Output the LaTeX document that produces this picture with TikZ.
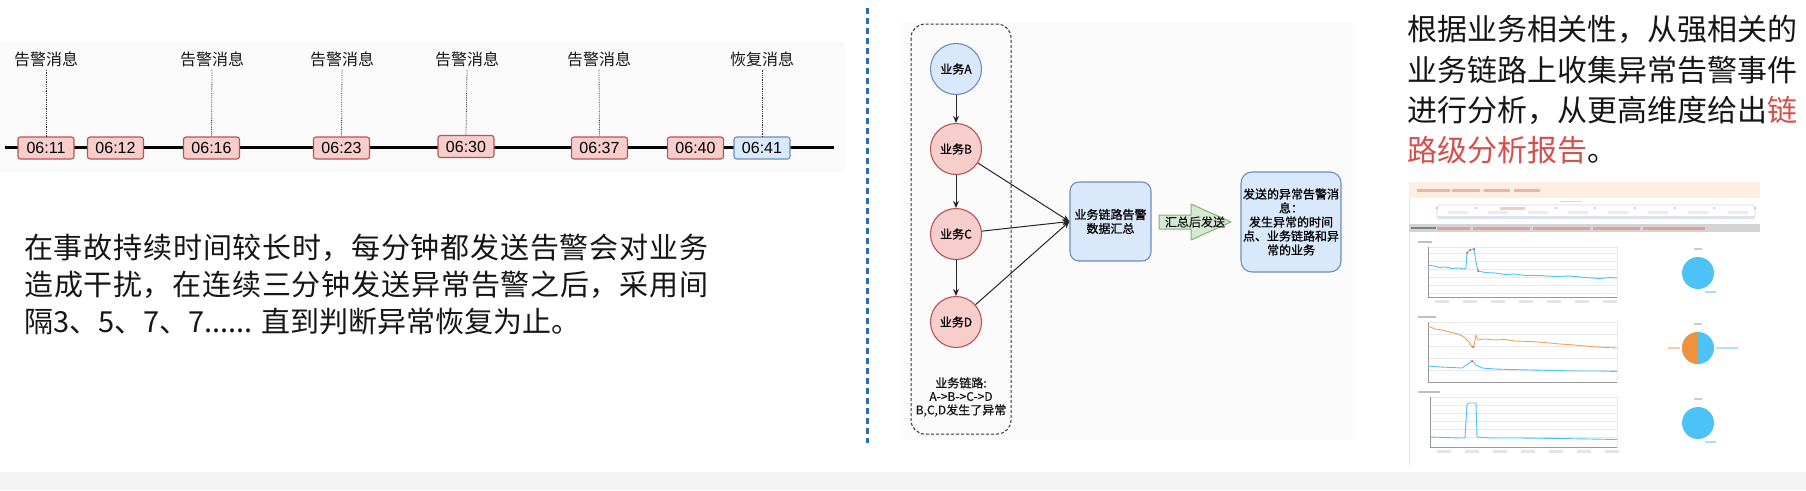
\documentclass[tikz,border=0pt]{standalone}
\usepackage{fontspec}
\setmainfont{Noto Sans CJK SC}
\newfontfamily\lat{Liberation Sans}
\newfontfamily\cjkm[FakeBold=0.8]{Noto Sans CJK SC}
\XeTeXlinebreaklocale "zh"
\XeTeXlinebreakskip = 0pt plus 4pt
\usetikzlibrary{arrows.meta}
\definecolor{redfill}{HTML}{F8CECC}
\definecolor{redline}{HTML}{B85450}
\definecolor{bluefill}{HTML}{DAE8FC}
\definecolor{blueline}{HTML}{6C8EBF}
\definecolor{greenfill}{HTML}{D5E8D4}
\definecolor{greenline}{HTML}{82B366}
\definecolor{divider}{HTML}{2A6DB5}
\definecolor{hilite}{HTML}{D4504C}
\definecolor{skyblue}{HTML}{4CC2F6}
\definecolor{pieorange}{HTML}{F0923B}
\definecolor{bandgray}{HTML}{F4F4F4}
\definecolor{txt}{HTML}{161616}
\definecolor{peach}{HTML}{FCEFE0}
\definecolor{gridgray}{HTML}{E8E8E8}
\newcommand{\fullline}[1]{\parbox{684pt}{\parindent=0pt\parfillskip=0pt\relax #1}}
\begin{document}
\begin{tikzpicture}[x=1pt,y=-1pt,
  tbox/.style={draw=redline, fill=redfill, rounded corners=2.5pt, minimum width=56pt, minimum height=22pt, inner sep=0pt, line width=1.1pt, font=\lat\fontsize{16}{16}\selectfont},
  tboxb/.style={tbox, draw=blueline, fill=bluefill},
  tlabel/.style={font=\fontsize{16}{16}\selectfont, inner sep=3pt, text=txt},
  tick/.style={densely dotted, line width=0.8pt, black!80},
  bizred/.style={circle, draw=redline, fill=redfill, minimum size=51pt, inner sep=0pt, line width=1.1pt, font=\cjkm\fontsize{12}{12}\selectfont},
  bizblue/.style={bizred, draw=blueline, fill=bluefill},
  rbox/.style={draw=blueline, fill=bluefill, rounded corners=9pt, line width=1.1pt, align=center, inner sep=0pt, font=\cjkm\fontsize{12}{14}\selectfont},
  link/.style={-{Stealth[length=7pt,width=6pt]}, line width=1pt, black!85},
  bigtext/.style={anchor=west, inner sep=0pt, text=txt},
  plotblue/.style={skyblue, line width=0.9pt, line join=round},
  plotorange/.style={pieorange!85, line width=0.9pt, line join=round}
]
\useasboundingbox (0,0) rectangle (1806,490);
\fill[white] (0,0) rectangle (1806,490);
% bottom band
\fill[bandgray] (0,472) rectangle (1806,490);
% faint panels
\fill[black!2] (0,42) rectangle (845,172);
\fill[black!1.5] (900,22) rectangle (1353,440);

% ---------------- timeline ----------------
\coordinate (tl0) at (5,147);
\coordinate (tl1) at (834,147);
\draw[line width=3pt, black] (tl0) -- (tl1);
\node[tbox] (t1) at (46,148) {06:11};
\node[tbox] (t2) at (115.5,148) {06:12};
\node[tbox] (t3) at (211.5,148) {06:16};
\node[tbox] (t4) at (341.5,148) {06:23};
\node[tbox] (t5) at (466,146.5) {06:30};
\node[tbox] (t6) at (599.5,148) {06:37};
\node[tbox] (t7) at (695.5,148) {06:40};
\node[tboxb] (t8) at (762,148) {06:41};
\node[tlabel] (l1) at (46,59) {告警消息};
\node[tlabel] (l3) at (212,59) {告警消息};
\node[tlabel] (l4) at (342,59) {告警消息};
\node[tlabel] (l5) at (467,59) {告警消息};
\node[tlabel] (l6) at (599,59) {告警消息};
\node[tlabel] (l8) at (762,59) {恢复消息};
\draw[tick] (l1.south) -- (t1.north);
\draw[tick] (l3.south) -- (t3.north);
\draw[tick] (l4.south) -- (t4.north);
\draw[tick] (l5.south) -- (t5.north);
\draw[tick] (l6.south) -- (t6.north);
\draw[tick] (l8.south) -- (t8.north);

% ---------------- left paragraph ----------------
\node[bigtext, font=\fontsize{29}{29}\selectfont] (p1) at (24,248) {\fullline{在事故持续时间较长时，每分钟都发送告警会对业务}};
\node[bigtext, font=\fontsize{29}{29}\selectfont] (p2) at (24,285) {\fullline{造成干扰，在连续三分钟发送异常告警之后，采用间}};
\node[bigtext, font=\fontsize{29}{29}\selectfont] (p3) at (24,322) {隔3、5、7、7...... 直到判断异常恢复为止。};

% ---------------- divider ----------------
\draw[divider, line width=3pt, dash pattern=on 6pt off 4pt] (867,8) -- (867,443);

% ---------------- middle diagram ----------------
\draw[dashed, dash pattern=on 3pt off 2pt, line width=1pt, black!80, rounded corners=14pt] (911,24) rectangle (1011,434);
\node[bizblue] (A) at (956,69) {业务A};
\node[bizred] (B) at (956,149) {业务B};
\node[bizred] (C) at (956,234) {业务C};
\node[bizred] (D) at (956,322) {业务D};
\node[align=center, font=\cjkm\fontsize{12}{13.5}\selectfont, text=txt] (chain) at (961,397) {业务链路:\\A->B->C->D\\B,C,D发生了异常};
\node[rbox, minimum width=81pt, minimum height=79pt] (sum) at (1110.5,221.5) {业务链路告警\\数据汇总};
\node[rbox, minimum width=100pt, minimum height=100pt, rounded corners=11pt] (msg) at (1291,222) {发送的异常告警消\\息：\\发生异常的时间\\点、业务链路和异\\常的业务};
\draw[link] (A) -- (B);
\draw[link] (B) -- (C);
\draw[link] (C) -- (D);
\draw[link] (B) -- (sum.west);
\draw[link] (C) -- (sum.west);
\draw[link] (D) -- (sum.west);
% block arrow
\draw[greenline, fill=greenfill, line width=1pt, line join=round]
  (1159,215) -- (1191,215) -- (1191,204) -- (1231,222) -- (1191,240) -- (1191,229) -- (1159,229) -- cycle;
\node[font=\cjkm\fontsize{12}{12}\selectfont, text=txt, inner sep=0pt] (send) at (1195,222) {汇总后发送};

% ---------------- right text ----------------
\node[bigtext, font=\fontsize{30}{30}\selectfont] (r1) at (1407,29) {根据业务相关性，从强相关的};
\node[bigtext, font=\fontsize{30}{30}\selectfont] (r2) at (1407,70) {业务链路上收集异常告警事件};
\node[bigtext, font=\fontsize{30}{30}\selectfont] (r3) at (1407,110) {进行分析，从更高维度给出\textcolor{hilite}{链}};
\node[bigtext, font=\fontsize{30}{30}\selectfont] (r4) at (1407,150) {\textcolor{hilite}{路级分析报告}。};

% ---------------- report screenshot ----------------
\fill[white] (1409,182) rectangle (1760,465);
\draw[black!10, line width=0.6pt] (1409,198) -- (1409,465);
\fill[peach] (1409,182) rectangle (1760,198);
\foreach \a/\b in {1417/1450,1452/1480,1484/1510,1514/1540}
  \fill[hilite!45] (\a,189) rectangle (\b,191.5);
\fill[black!15] (1560,200.5) rectangle (1582,202);
\draw[black!15, rounded corners=2pt, line width=0.6pt] (1437,205) rectangle (1755,218);
\fill[blueline!25] (1437,216) rectangle (1755,218.5);
\foreach \x in {1437,1476,1516,1556,1595,1635,1675,1714,1755}
  \fill[hilite!70] (\x,208) circle[radius=0.9pt];
\fill[hilite!30] (1500,207) rectangle (1525,210);
\foreach \x in {1448,1488,1528,1568,1608,1648,1688,1728}
  \fill[black!8] (\x,211) rectangle (\x+20,213.5);
\fill[black!17] (1409,224) rectangle (1760,232);
\fill[black!50] (1411,226.8) rectangle (1436,229.2);
\foreach \a/\b in {1437/1470,1473/1530,1533/1590,1593/1640,1643/1705}
  \fill[hilite!55] (\a,226.5) rectangle (\b,229.5);
% chart 1
\fill[black!25] (1418,241) rectangle (1432,243);
\foreach \y in {253,261,269,277,285,293}
  \draw[gridgray, line width=0.5pt] (1428,\y) -- (1617,\y);
\draw[gridgray, line width=0.5pt] (1428,247) rectangle (1617,297);
\draw[black!40, line width=0.6pt] (1428,247) -- (1428,297) -- (1617,297);
\draw[plotblue] plot coordinates {(1428,265) (1434,266) (1440,267.5) (1446,267) (1452,268.5) (1458,268) (1464,269) (1466,268) (1467,252) (1470,250) (1474,249) (1476,262) (1478,271) (1485,272.5) (1495,273) (1505,274.5) (1515,274) (1525,275.5) (1540,275.5) (1555,276.5) (1570,276) (1585,277.5) (1600,278.5) (1610,277.5) (1617,278)};
\fill[hilite] (1470,250) circle[radius=1pt] (1474,249) circle[radius=1pt] (1467,253) circle[radius=1pt] (1478,271) circle[radius=1pt];
\foreach \x in {1435,1463,1491,1519,1547,1575,1603}
  \fill[black!10] (\x,300) rectangle (\x+14,303);
\fill[black!20] (1694,248) rectangle (1702,250);
\fill[skyblue] (1698,273) circle[radius=16pt];
\fill[skyblue!50] (1705,291) rectangle (1716,292.5);
% chart 2
\fill[black!25] (1418,316) rectangle (1436,318);
\foreach \y in {334,346,358,370}
  \draw[gridgray, line width=0.5pt] (1428,\y) -- (1617,\y);
\draw[gridgray, line width=0.5pt] (1428,322) rectangle (1617,382);
\draw[black!40, line width=0.6pt] (1428,322) -- (1428,382) -- (1617,382);
\draw[plotorange] plot coordinates {(1428,326) (1435,329) (1442,330) (1450,332) (1458,334) (1464,337) (1469,342) (1472,347) (1474,346) (1476,335) (1478,340) (1485,339) (1495,340) (1505,339.5) (1515,341) (1530,341.5) (1545,342.5) (1560,344) (1575,345) (1590,346.5) (1605,347.5) (1617,348)};
\draw[plotblue] plot coordinates {(1428,366) (1440,367) (1452,367.5) (1462,368) (1468,364) (1472,361) (1476,365) (1482,368) (1495,369) (1510,369.5) (1530,370) (1555,370.5) (1580,371) (1600,371) (1617,371.5)};
\fill[hilite] (1472,361) circle[radius=1pt] (1473,347) circle[radius=1pt];
\fill[black!20] (1694,323) rectangle (1702,325);
\fill[skyblue] (1698,348) circle[radius=16pt];
\begin{scope}
  \clip (1680,330) rectangle (1698,366);
  \fill[pieorange] (1698,348) circle[radius=16pt];
\end{scope}
\fill[pieorange!45] (1668,347.3) rectangle (1680,348.7);
\fill[skyblue!45] (1716,347.3) rectangle (1738,348.7);
% chart 3
\fill[black!25] (1418,391) rectangle (1440,393);
\foreach \y in {405,413,421,429,437}
  \draw[gridgray, line width=0.5pt] (1430,\y) -- (1617,\y);
\draw[gridgray, line width=0.5pt] (1430,397) rectangle (1617,447);
\draw[black!40, line width=0.6pt] (1430,397) -- (1430,447) -- (1617,447);
\draw[plotblue] plot coordinates {(1430,437) (1445,437.5) (1460,438) (1465,438) (1467,404) (1469,403) (1476,403) (1477,437) (1490,438) (1520,438) (1560,438.5) (1590,439) (1617,439.5)};
\foreach \x in {1437,1465,1493,1521,1549,1577,1605}
  \fill[black!10] (\x,450) rectangle (\x+14,453);
\fill[black!20] (1694,398) rectangle (1702,400);
\fill[skyblue] (1698,423) circle[radius=16pt];
\fill[skyblue!50] (1705,441) rectangle (1716,442.5);
\end{tikzpicture}
\end{document}
